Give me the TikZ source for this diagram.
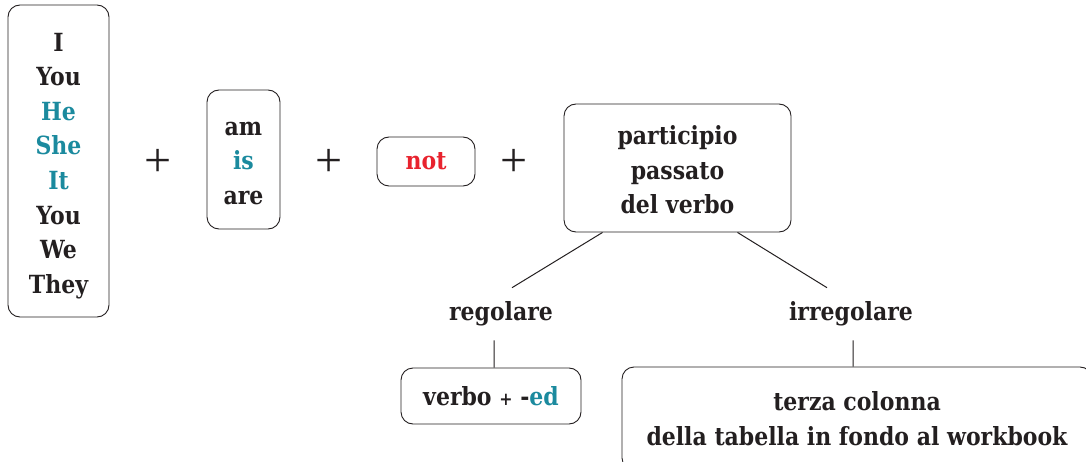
\documentclass[tikz,border=0pt]{standalone}
\usepackage{fontspec}
\setmainfont{DejaVu Serif}[FakeStretch=0.88]
\newfontfamily\plusfont{Liberation Serif}
\usetikzlibrary{positioning}

\definecolor{teal}{HTML}{1B8A9E}
\definecolor{notred}{HTML}{E8232E}
\definecolor{ink}{HTML}{231F20}

% strut for lowering the first line
\newcommand{\lift}[1]{\rule{0pt}{#1}}

\begin{document}
\begin{tikzpicture}[x=1pt, y=-1pt, semithick, draw=ink, text=ink,
  font=\fontsize{25}{34.6}\selectfont\bfseries]
\tikzset{box/.style={draw, rounded corners=12pt, line width=0.9pt, align=center, inner sep=0pt},
         lbl/.style={inner sep=0pt, minimum height=52pt},
         plus/.style={font=\plusfont\fontsize{48}{48}\selectfont}}

\useasboundingbox (0,0) rectangle (1086,462);

% soggetti
\node[box, minimum width=101pt, minimum height=312pt] (subj) at (58.5,161)
  {\lift{28pt}I\\You\\\textcolor{teal}{He}\\\textcolor{teal}{She}\\\textcolor{teal}{It}\\You\\We\\They};
\node[plus] (plusA) at (158,163) {+};

% verbo essere
\node[box, minimum width=73pt, minimum height=139pt] (be) at (243.5,159.5)
  {\lift{21pt}am\\\textcolor{teal}{is}\\are};
\node[plus] (plusB) at (329,163) {+};

\node[box, minimum width=98pt, minimum height=49pt] (neg) at (426,161.5)
  {\textcolor{notred}{not}};
\node[plus] (plusC) at (514,163) {+};

% participio
\node[box, minimum width=227pt, minimum height=128pt] (part) at (677.5,168)
  {\lift{23pt}participio\\passato\\del verbo};

\node[lbl] (reg) at (501,314) {regolare};
\node[lbl] (irr) at (851,314) {irregolare};

\node[box, minimum width=180pt, minimum height=56pt] (ed) at (491,396)
  {verbo {\fontsize{18}{18}\selectfont+} -\textcolor{teal}{ed}};
\node[box, minimum width=470pt, minimum height=103pt] (third) at (857,418.5)
  {terza colonna\\della tabella in fondo al workbook};

\path[draw, line width=1pt]
  ([xshift=39pt]part.south west) -- ([xshift=11pt]reg.north)
  ([xshift=60pt]part.south) -- ([xshift=-24pt]irr.north)
  ([xshift=-7pt]reg.south) -- ([xshift=-7pt]reg.south |- ed.north)
  ([xshift=2pt]irr.south) -- ([xshift=2pt]irr.south |- third.north);

\end{tikzpicture}
\end{document}
